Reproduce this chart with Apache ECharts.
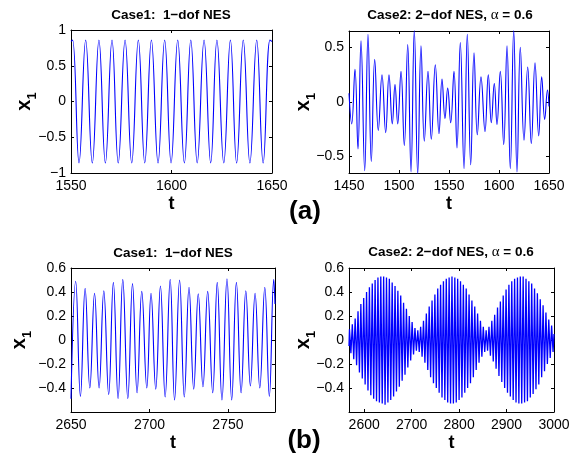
<!DOCTYPE html>
<html><head><meta charset="utf-8">
<script src="https://cdn.jsdelivr.net/npm/echarts@6/dist/echarts.min.js"></script>
<style>html,body{margin:0;padding:0;background:#fff}#c{width:576px;height:463px}</style>
</head><body><div id="c"></div>
<script>
// ---------- data (extremes) ----------
// (a) Case1: 1-dof NES
const tA1 = [1550, 1550.8, 1554.0, 1557.3, 1560.6, 1563.9, 1567.1, 1570.4, 1573.5, 1576.9,
  1580.2, 1583.5, 1586.7, 1590.0, 1593.3, 1596.6, 1599.8, 1603.1, 1606.4, 1609.6,
  1612.8, 1616.2, 1619.5, 1622.6, 1626.0, 1629.3, 1632.4, 1635.7, 1639.0, 1642.4,
  1645.6, 1649.0, 1650];
const xA1 = [0.84, 0.86, -0.86, 0.86, -0.86, 0.86, -0.86, 0.86, -0.86, 0.86,
  -0.86, 0.86, -0.86, 0.86, -0.86, 0.86, -0.86, 0.86, -0.86, 0.86,
  -0.86, 0.86, -0.86, 0.86, -0.86, 0.86, -0.86, 0.86, -0.86, 0.86,
  -0.86, 0.86, 0.84];
// (a) Case2: 2-dof NES
const tA2 = [1450, 1452.7, 1456, 1459, 1462, 1465.7, 1469, 1472.3, 1475.7, 1479.3,
  1483, 1486.7, 1490, 1493.3, 1496, 1498.7, 1502, 1505.3, 1508.7, 1512,
  1515.3, 1518.7, 1522, 1525.3, 1529, 1532.3, 1536.3, 1540, 1543, 1546,
  1548.7, 1551.7, 1555, 1558, 1561.3, 1565, 1568.3, 1571.7, 1575, 1578.3,
  1582, 1586, 1589.3, 1592.3, 1595.3, 1598, 1601.3, 1604.7, 1608, 1611.3,
  1614.7, 1618, 1621.3, 1625, 1628.7, 1632.3, 1636, 1639.7, 1642.7, 1645.7,
  1648.5, 1650];
const xA2 = [0.08, -0.20, 0.30, -0.43, 0.56, -0.63, 0.62, -0.545, 0.39, -0.26,
  0.25, -0.28, 0.25, -0.20, 0.16, -0.20, 0.28, -0.40, 0.525, -0.64,
  0.66, -0.66, 0.515, -0.36, 0.28, -0.34, 0.34, -0.29, 0.21, -0.15,
  0.127, -0.19, 0.28, -0.42, 0.545, -0.61, 0.62, -0.575, 0.45, -0.30,
  0.23, -0.27, 0.25, -0.19, 0.17, -0.205, 0.28, -0.39, 0.515, -0.61,
  0.66, -0.64, 0.50, -0.35, 0.32, -0.38, 0.36, -0.31, 0.23, -0.16,
  0.11, -0.04];
// (b) Case1: 1-dof NES
const tB1 = [2650, 2653, 2656, 2659, 2662, 2665, 2667.9, 2670.9, 2674, 2677,
  2680, 2683, 2686.2, 2689.2, 2692.1, 2695.1, 2698.3, 2701, 2704, 2707,
  2710, 2713.2, 2716, 2719.2, 2722.2, 2725.2, 2728.2, 2731.1, 2734.1, 2737.1,
  2740.3, 2743.2, 2746.2, 2749.4, 2752.4, 2755.4, 2758.4, 2761.4, 2764.3, 2767.3,
  2770.3, 2773.5, 2776.4, 2779.2, 2780];
const xB1 = [-0.49, 0.49, -0.47, 0.43, -0.40, 0.39, -0.40, 0.41, -0.455, 0.48,
  -0.49, 0.505, -0.49, 0.47, -0.44, 0.405, -0.40, 0.39, -0.41, 0.45,
  -0.475, 0.505, -0.50, 0.50, -0.475, 0.44, -0.41, 0.386, -0.39, 0.405,
  -0.44, 0.48, -0.50, 0.51, -0.50, 0.48, -0.44, 0.41, -0.383, 0.39,
  -0.40, 0.44, -0.47, 0.505, 0.3];
// (b) Case2: 2-dof NES (beating response)
const tB2 = [2568,
  2569,2572,2575,2578,2581,2584,2587,2590,2593,2596,2599,2602,2605,2608,2611,2614,2617,2620,2623,2626,
  2629,2632,2635,2638,2641,2644,2647,2650,2653,2656,2659,2662,2665,2668,2671,2674,2677,2680,2683,2686,
  2689,2692,2695,2698,2701,2704,2707,2710,2713,2716,2719,2722,2725,2728,2731,2734,2737,2740,2743,2746,
  2749,2752,2755,2758,2761,2764,2767,2770,2773,2776,2779,2782,2785,2788,2791,2794,2797,2800,2803,2806,
  2809,2812,2815,2818,2821,2824,2827,2830,2833,2836,2839,2842,2845,2848,2851,2854,2857,2860,2863,2866,
  2869,2872,2875,2878,2881,2884,2887,2890,2893,2896,2899,2902,2905,2908,2911,2914,2917,2920,2923,2926,
  2929,2932,2935,2938,2941,2944,2947,2950,2953,2956,2959,2962,2965,2968,2971,2974,2977,2980,2983,2986,
  2989,2992,2995,2998,
  3000];
const xB2 = [-0.05,
  0.09,-0.11,0.13,-0.16,0.18,-0.21,0.24,-0.27,0.30,-0.32,0.35,-0.37,0.40,-0.42,0.44,-0.46,0.47,-0.49,0.50,-0.51,
  0.52,-0.52,0.53,-0.53,0.53,-0.54,0.52,-0.52,0.51,-0.50,0.48,-0.47,0.45,-0.43,0.41,-0.39,0.37,-0.34,0.31,-0.29,
  0.26,-0.23,0.20,-0.17,0.15,-0.12,0.10,-0.09,0.08,-0.10,0.11,-0.14,0.16,-0.19,0.22,-0.25,0.28,-0.31,0.33,-0.36,
  0.38,-0.40,0.43,-0.44,0.46,-0.48,0.49,-0.50,0.51,-0.52,0.52,-0.53,0.53,-0.53,0.52,-0.52,0.51,-0.50,0.49,-0.48,
  0.46,-0.44,0.43,-0.40,0.38,-0.36,0.33,-0.31,0.28,-0.25,0.22,-0.19,0.16,-0.14,0.11,-0.10,0.08,-0.09,0.11,-0.13,
  0.16,-0.18,0.21,-0.24,0.27,-0.30,0.32,-0.35,0.37,-0.40,0.42,-0.44,0.46,-0.47,0.49,-0.50,0.51,-0.52,0.52,-0.53,
  0.53,-0.53,0.53,-0.52,0.51,-0.51,0.49,-0.48,0.47,-0.45,0.43,-0.41,0.39,-0.37,0.34,-0.31,0.29,-0.26,0.23,-0.20,
  0.17,-0.15,0.12,-0.10,
  0.05];

// tick labels
const ticksA1x = [1550, 1600, 1650];
const ticksA1y = [-1, -0.5, 0, 0.5, 1];
const ticksA2x = [1450, 1500, 1550, 1600, 1650];
const ticksA2y = [-0.5, 0, 0.5];
const ticksB1x = [2650, 2700, 2750];
const ticksB1y = [-0.4, -0.2, 0, 0.2, 0.4, 0.6];
const ticksB2x = [2600, 2700, 2800, 2900, 3000];
const ticksB2y = [-0.4, -0.2, 0, 0.2, 0.4, 0.6];

// ---------- chart ----------
const FONT = 'Liberation Sans, Arial, Helvetica, sans-serif';
const fmt = v => (v < 0 ? '\u2212' + String(Math.abs(v)) : String(v));
const pairs = (t, x) => t.map((v, i) => [v, x[i]]);

const panels = [
  {grid: {left: 71, top: 30, width: 201, height: 143}, xr: [1550, 1650], yr: [-1, 1],
   xt: ticksA1x, yt: ticksA1y, t: tA1, x: xA1, smooth: 0.45, yGap: 32, lw: 1.1},
  {grid: {left: 349, top: 31, width: 200, height: 142}, xr: [1450, 1650], yr: [-0.65, 0.65],
   xt: ticksA2x, yt: ticksA2y, t: tA2, x: xA2, smooth: 0.45, yGap: 31, lw: 1.1},
  {grid: {left: 71, top: 268, width: 204, height: 144}, xr: [2650, 2780], yr: [-0.6, 0.6],
   xt: ticksB1x, yt: ticksB1y, t: tB1, x: xB1, smooth: 0.45, yGap: 37, lw: 1.1},
  {grid: {left: 349, top: 268, width: 205, height: 144}, xr: [2568, 3000], yr: [-0.6, 0.6],
   xt: ticksB2x, yt: ticksB2y, t: tB2, x: xB2, smooth: false, yGap: 31, lw: 1.3}
];

const axLine = {show: true, onZero: false, lineStyle: {color: '#000', width: 1}};
const grids = [], xAxes = [], yAxes = [], series = [];
panels.forEach((p, i) => {
  grids.push(Object.assign({show: false, containLabel: false}, p.grid));
  const tickB = (vals) => ({show: true, inside: true, length: 3, customValues: vals, lineStyle: {color: '#000'}});
  xAxes.push({
    gridIndex: i, type: 'value', position: 'bottom', min: p.xr[0], max: p.xr[1],
    axisLine: axLine, axisTick: tickB(p.xt), splitLine: {show: false},
    axisLabel: {customValues: p.xt, formatter: fmt, color: '#000', fontSize: 14, fontFamily: FONT, margin: 6},
    name: 't', nameLocation: 'middle', nameGap: 22, nameMoveOverlap: false,
    nameTextStyle: {fontSize: 18, fontWeight: 'bold', fontFamily: FONT, color: '#000'}
  });
  xAxes.push({
    gridIndex: i, type: 'value', position: 'top', min: p.xr[0], max: p.xr[1],
    axisLine: axLine, axisTick: tickB(p.xt), splitLine: {show: false}, axisLabel: {show: false}
  });
  yAxes.push({
    gridIndex: i, type: 'value', position: 'left', min: p.yr[0], max: p.yr[1],
    axisLine: axLine, axisTick: tickB(p.yt), splitLine: {show: false},
    axisLabel: {customValues: p.yt, formatter: fmt, color: '#000', fontSize: 14, fontFamily: FONT, margin: 5},
    name: '{x|x}{s|1}', nameLocation: 'middle', nameGap: p.yGap, nameRotate: 90, nameMoveOverlap: false,
    nameTextStyle: {rich: {
      x: {fontSize: 20, fontWeight: 'bold', fontFamily: FONT, color: '#000', lineHeight: 30},
      s: {fontSize: 13, fontWeight: 'bold', fontFamily: FONT, color: '#000', lineHeight: 14, verticalAlign: 'bottom'}
    }}
  });
  yAxes.push({
    gridIndex: i, type: 'value', position: 'right', min: p.yr[0], max: p.yr[1],
    axisLine: axLine, axisTick: tickB(p.yt), splitLine: {show: false}, axisLabel: {show: false}
  });
  series.push({
    type: 'line', xAxisIndex: 2 * i, yAxisIndex: 2 * i, data: pairs(p.t, p.x),
    showSymbol: false, smooth: p.smooth, clip: true,
    lineStyle: {color: '#0000ff', width: p.lw}, silent: true
  });
});

const titleText = (x, y, text) => ({
  type: 'text', x: x, y: y, silent: true,
  style: {text: text, textAlign: 'center', align: 'center', textVerticalAlign: 'middle', verticalAlign: 'middle',
    rich: {
      b: {fontFamily: FONT, fontWeight: 'bold', fontSize: 13.5, fill: '#000'},
      g: {fontFamily: 'Liberation Serif, serif', fontSize: 15, fill: '#000'}
    }}
});
const bigLabel = (x, y, text) => ({
  type: 'text', x: x, y: y, silent: true,
  style: {text: text, textAlign: 'center', align: 'center', textVerticalAlign: 'middle', verticalAlign: 'middle',
    font: 'bold 26px ' + FONT, fill: '#000'}
});

const chart = echarts.init(document.getElementById('c'), null, {renderer: 'canvas'});
chart.setOption({
  animation: false,
  backgroundColor: '#fff',
  grid: grids, xAxis: xAxes, yAxis: yAxes, series: series,
  graphic: [
    titleText(171, 15, '{b|Case1:  1\u2212dof NES}'),
    titleText(450, 15, '{b|Case2: 2\u2212dof NES, }{g|\u03b1}{b| = 0.6}'),
    titleText(173, 253, '{b|Case1:  1\u2212dof NES}'),
    titleText(451, 252, '{b|Case2: 2\u2212dof NES, }{g|\u03b1}{b| = 0.6}'),
    bigLabel(305, 212, '(a)'),
    bigLabel(304, 441, '(b)')
  ]
});
</script>
</body></html>
